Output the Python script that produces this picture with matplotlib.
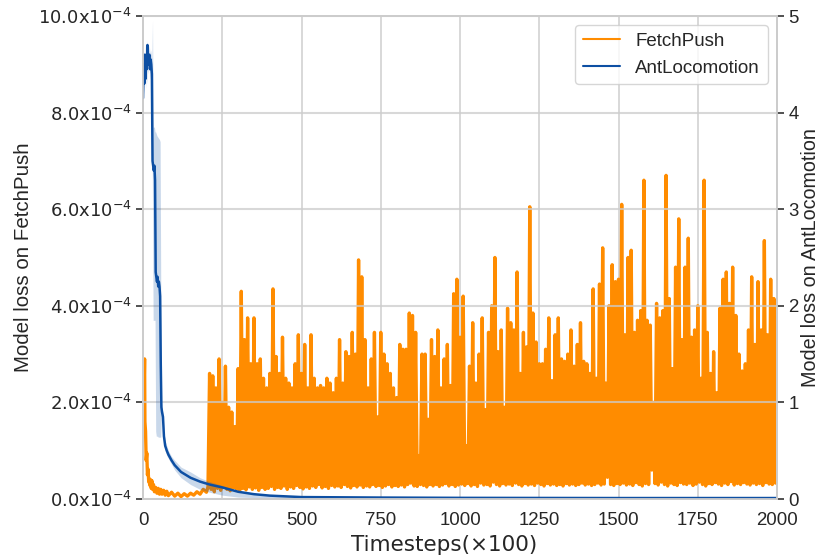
import numpy as np
import matplotlib
matplotlib.use('Agg')
import matplotlib.pyplot as plt
import seaborn as sns
from matplotlib.lines import Line2D
from matplotlib.ticker import FuncFormatter

# FetchPush model loss (units of 1e-4), first 200 steps read point by point
fetch_early_t = [1, 3, 5, 6, 8, 10, 12, 14, 16, 18, 20, 22, 24, 26, 28, 30, 33, 36, 40, 44,
                 48, 52, 56, 60, 65, 70, 75, 80, 90, 100, 110, 120, 130, 140, 150, 160,
                 170, 180, 190, 200, 205]
fetch_early = [1.5, 2.1, 2.9, 1.6, 1.4, 0.8, 0.95, 0.5, 0.62, 0.35, 0.42, 0.28, 0.4, 0.22,
               0.38, 0.2, 0.3, 0.15, 0.24, 0.12, 0.22, 0.1, 0.2, 0.1, 0.18, 0.08, 0.16, 0.07,
               0.14, 0.06, 0.12, 0.05, 0.11, 0.06, 0.12, 0.08, 0.15, 0.1, 0.2, 0.14, 0.25]

# from step 210 on: one spike top and one floor value per 10 steps
fetch_peaks = [
    2.6, 2.55, 2.3, 2.9, 2.0, 2.75, 1.9, 1.8, 1.5, 2.7,
    4.3, 3.3, 3.75, 2.8, 3.75, 2.8, 2.9, 2.5, 2.3, 2.6,
    4.35, 2.95, 2.6, 3.35, 2.5, 2.4, 2.3, 2.8, 3.4, 2.6,
    3.2, 2.3, 3.4, 2.5, 2.3, 2.35, 2.3, 2.5, 2.4, 2.2,
    2.5, 3.3, 2.4, 3.05, 2.95, 3.45, 3.0, 4.95, 4.6, 3.3,
    2.3, 2.9, 3.45, 1.7, 3.45, 3.0, 2.8, 2.6, 2.3, 2.1,
    3.2, 3.1, 3.1, 3.85, 3.8, 3.45, 0.9, 3.0, 3.0, 1.65,
    3.3, 2.95, 3.5, 2.3, 2.9, 3.2, 2.35, 4.25, 4.55, 3.35,
    4.2, 1.1, 2.75, 3.65, 2.4, 3.0, 3.75, 1.85, 3.45, 4.0,
    5.0, 3.05, 3.5, 1.9, 3.95, 3.65, 3.5, 4.7, 2.6, 3.45,
    3.15, 6.05, 3.85, 3.25, 2.8, 2.8, 3.1, 3.75, 2.45, 3.4,
    3.75, 2.9, 2.85, 3.0, 3.5, 2.75, 3.2, 3.65, 2.85, 2.8,
    2.6, 4.35, 2.5, 4.45, 5.2, 2.4, 4.0, 4.85, 4.5, 4.55,
    6.1, 3.4, 5.0, 5.15, 3.45, 3.7, 3.9, 6.6, 3.7, 3.6,
    2.0, 4.05, 3.75, 3.9, 6.7, 4.15, 2.7, 4.8, 5.8, 3.3,
    4.8, 5.4, 3.35, 3.5, 4.0, 2.5, 6.6, 3.45, 2.6, 3.05,
    2.2, 3.95, 4.55, 4.7, 4.05, 4.8, 3.8, 3.0, 2.65, 2.8,
    3.5, 4.6, 3.2, 4.5, 3.5, 5.35, 3.4, 4.55, 4.15, 3.75,
]
fetch_floor = [
    0.2, 0.15, 0.22, 0.18, 0.25, 0.2, 0.17, 0.23, 0.2, 0.18,
    0.22, 0.19, 0.25, 0.2, 0.23, 0.18, 0.24, 0.2, 0.22, 0.26,
    0.2, 0.24, 0.22, 0.27, 0.2, 0.25, 0.22, 0.28, 0.24, 0.21,
    0.25, 0.22, 0.27, 0.24, 0.3, 0.23, 0.26, 0.22, 0.28, 0.25,
    0.27, 0.24, 0.3, 0.26, 0.23, 0.28, 0.25, 0.29, 0.24, 0.27,
    0.25, 0.3, 0.26, 0.28, 0.24, 0.27, 0.3, 0.25, 0.28, 0.26,
    0.29, 0.25, 0.3, 0.33, 0.27, 0.26, 0.3, 0.28, 0.25, 0.3,
    0.27, 0.3, 0.26, 0.29, 0.32, 0.27, 0.3, 0.26, 0.29, 0.31,
    0.28, 0.32, 0.27, 0.3, 0.26, 0.33, 0.29, 0.3, 0.27, 0.35,
    0.3, 0.27, 0.32, 0.29, 0.31, 0.28, 0.33, 0.3, 0.27, 0.32,
    0.29, 0.31, 0.28, 0.33, 0.3, 0.27, 0.32, 0.29, 0.31, 0.28,
    0.3, 0.27, 0.32, 0.29, 0.31, 0.28, 0.3, 0.33, 0.29, 0.31,
    0.28, 0.3, 0.33, 0.29, 0.31, 0.45, 0.3, 0.28, 0.32, 0.3,
    0.33, 0.29, 0.31, 0.28, 0.34, 0.3, 0.27, 0.32, 0.3, 0.6,
    0.32, 0.29, 0.35, 0.3, 0.27, 0.33, 0.3, 0.28, 0.34, 0.31,
    0.3, 0.33, 0.28, 0.31, 0.35, 0.3, 0.27, 0.32, 0.3, 0.34,
    0.31, 0.28, 0.33, 0.3, 0.36, 0.29, 0.32, 0.3, 0.34, 0.31,
    0.29, 0.33, 0.3, 0.32, 0.28, 0.34, 0.31, 0.3, 0.33, 0.32,
]

# AntLocomotion model loss: mean with shaded spread
ant_t = [0, 2, 4, 6, 8, 10, 12, 14, 16, 18, 20, 22, 24, 26, 28, 30, 32, 34, 36, 38,
         40, 42, 44, 46, 48, 50, 52, 54, 56, 58, 60, 63, 66, 70, 75, 80, 90, 100, 120,
         150, 180, 210, 250, 300, 350, 400, 500, 750, 1000, 1500, 2000]
ant_mean = [4.15, 4.5, 4.3, 4.6, 4.35, 4.55, 4.45, 4.7, 4.5, 4.55, 4.6, 4.45, 4.55, 4.5,
            4.4, 3.5, 3.45, 3.4, 3.45, 3.3, 2.35, 2.3, 2.25, 2.3, 2.2, 2.25, 2.2, 2.1,
            1.4, 0.95, 0.9, 0.85, 0.65, 0.55, 0.5, 0.46, 0.4, 0.35, 0.28, 0.22, 0.18,
            0.15, 0.12, 0.075, 0.05, 0.035, 0.02, 0.015, 0.012, 0.01, 0.01]
ant_lo = [4.0, 4.35, 4.2, 4.45, 4.25, 4.4, 4.3, 4.55, 4.4, 4.45, 4.45, 4.35, 4.45, 4.4,
          4.3, 3.0, 1.85, 1.85, 1.85, 1.85, 0.7, 0.65, 0.65, 0.65, 0.64, 0.64, 0.64, 0.64,
          0.64, 0.85, 0.85, 0.8, 0.6, 0.5, 0.45, 0.42, 0.36, 0.3, 0.22, 0.15, 0.1,
          0.07, 0.04, 0.02, 0.015, 0.015, 0.01, 0.008, 0.006, 0.005, 0.005]
ant_hi = [4.3, 4.65, 4.45, 4.7, 4.5, 4.65, 4.6, 4.75, 4.6, 4.65, 4.7, 4.6, 4.65, 4.6,
          4.55, 4.96, 3.85, 3.85, 3.85, 3.8, 3.8, 3.78, 3.76, 3.75, 3.74, 3.73, 3.72, 3.7,
          2.2, 1.0, 0.95, 0.9, 0.7, 0.6, 0.55, 0.5, 0.44, 0.4, 0.33, 0.28, 0.22,
          0.18, 0.14, 0.09, 0.06, 0.04, 0.025, 0.02, 0.015, 0.012, 0.012]

x_ticks = [0, 250, 500, 750, 1000, 1250, 1500, 1750, 2000]

orange = '#ff8c00'
blue = '#0d4fa3'

sns.set_style('whitegrid')
plt.rcParams['font.family'] = ['Liberation Sans', 'DejaVu Sans']
plt.rcParams['mathtext.fontset'] = 'dejavusans'
plt.rcParams['path.simplify'] = False

# spikes and floors alternate, 5 steps apart
peak_t = np.arange(210, 2001, 10)
fetch_t = np.concatenate([fetch_early_t, np.column_stack([peak_t, peak_t + 5]).ravel()])
fetch_v = np.concatenate([fetch_early,
                          np.column_stack([fetch_peaks, fetch_floor]).ravel()]) * 1e-4

fig = plt.figure(figsize=(8.2, 5.56), dpi=100)
ax = fig.add_axes([0.1744, 0.1025, 0.7732, 0.8687])
ax2 = ax.twinx()

ax.plot(fetch_t, fetch_v, color=orange, lw=2.4)
ax2.fill_between(ant_t, ant_lo, ant_hi, color=blue, alpha=0.22, lw=0)
ax2.plot(ant_t, ant_mean, color=blue, lw=1.8)

ax.set_xlim(0, 2000)
ax.set_ylim(0, 10e-4)
ax2.set_ylim(0, 5)
ax.set_xticks(x_ticks)
ax.set_yticks(np.arange(0, 10.1, 2) * 1e-4)
ax2.set_yticks(range(6))
ax.yaxis.set_major_formatter(FuncFormatter(
    lambda v, p: r'$\mathrm{%.1fx10^{-4}}$' % (v * 1e4)))

ax.grid(True, axis='x', color='#d6d6d6', lw=1.3)
ax.grid(False, axis='y')
ax2.grid(True, axis='y', color='#cccccc', lw=1.5, alpha=0.75)
ax2.grid(False, axis='x')

for a in (ax, ax2):
    for s in a.spines.values():
        s.set_color('#cccccc')
        s.set_linewidth(1.3)

ax.tick_params(axis='y', left=True, length=5, width=1.2, color='#333333',
               labelsize=13, labelcolor='#262626', pad=3)
ax.tick_params(axis='x', bottom=False, labelsize=13.4, labelcolor='#262626', pad=6)
ax2.tick_params(axis='y', right=True, length=5, width=1.2, color='#333333',
                labelsize=13.4, labelcolor='#262626', pad=3)

ax.set_xlabel('Timesteps(×100)', fontsize=15.5, color='#262626', labelpad=2,
              family='DejaVu Sans')
ax.xaxis.set_label_coords(0.475, -0.075)
ax.set_ylabel('Model loss on FetchPush', fontsize=14.8, color='#262626', labelpad=4)
ax2.set_ylabel('Model loss on AntLocomotion', fontsize=14.2, color='#262626', labelpad=2)

handles = [Line2D([], [], color=orange, lw=1.5), Line2D([], [], color=blue, lw=1.5)]
leg = ax2.legend(handles, ['FetchPush', 'AntLocomotion'], loc='upper right',
                 fontsize=13.5, frameon=True, fancybox=True)
leg.get_frame().set_edgecolor('#cccccc')

fig.savefig('out.png', dpi=100)
